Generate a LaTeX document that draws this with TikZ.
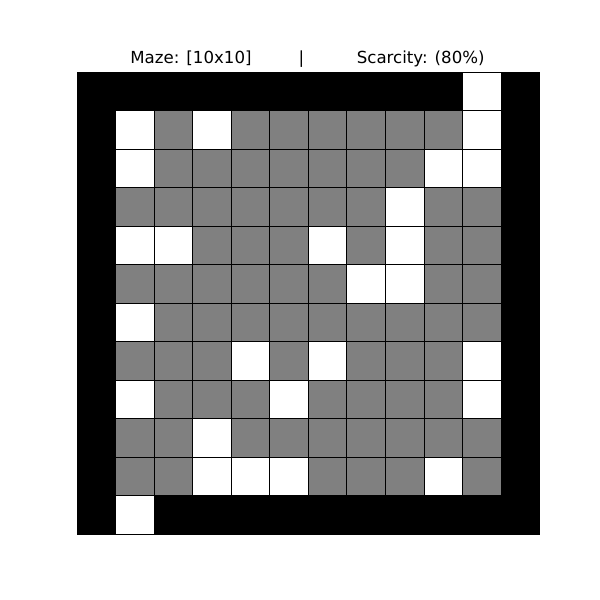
\documentclass[tikz,border=0pt]{standalone}
\usepackage{fontspec}
\setmainfont{DejaVu Sans}
\usepackage{xcolor}
\usepackage{tikz}
\definecolor{maze0}{HTML}{000000}
\definecolor{maze1}{HTML}{FFFFFF}
\definecolor{maze2}{HTML}{808080}
\tikzset{cell/.style={draw=black,line width=0.6pt}}

\begin{document}
\begin{tikzpicture}[x=0.01in,y=-0.01in]
\useasboundingbox (0,0) rectangle (600,600);
% 0 = wall, 1 = free, 2 = blocked
\foreach \row [count=\r from 0] in {
  {0,0,0,0,0,0,0,0,0,0,1,0},
  {0,1,2,1,2,2,2,2,2,2,1,0},
  {0,1,2,2,2,2,2,2,2,1,1,0},
  {0,2,2,2,2,2,2,2,1,2,2,0},
  {0,1,1,2,2,2,1,2,1,2,2,0},
  {0,2,2,2,2,2,2,1,1,2,2,0},
  {0,1,2,2,2,2,2,2,2,2,2,0},
  {0,2,2,2,1,2,1,2,2,2,1,0},
  {0,1,2,2,2,1,2,2,2,2,1,0},
  {0,2,2,1,2,2,2,2,2,2,2,0},
  {0,2,2,1,1,1,2,2,2,1,2,0},
  {0,1,0,0,0,0,0,0,0,0,0,0}}
  \foreach \v [count=\c from 0] in \row
    \draw[cell,fill=maze\v] ({77+\c*38.55},{72+\r*38.5}) rectangle ++(38.55,38.5);
\node[anchor=base,font=\fontsize{12}{14}\selectfont] (title) at (307.5,64)
  {Maze: [10x10]\hspace{34pt}|\hspace{38pt}Scarcity: (80\%)};
\end{tikzpicture}
\end{document}
